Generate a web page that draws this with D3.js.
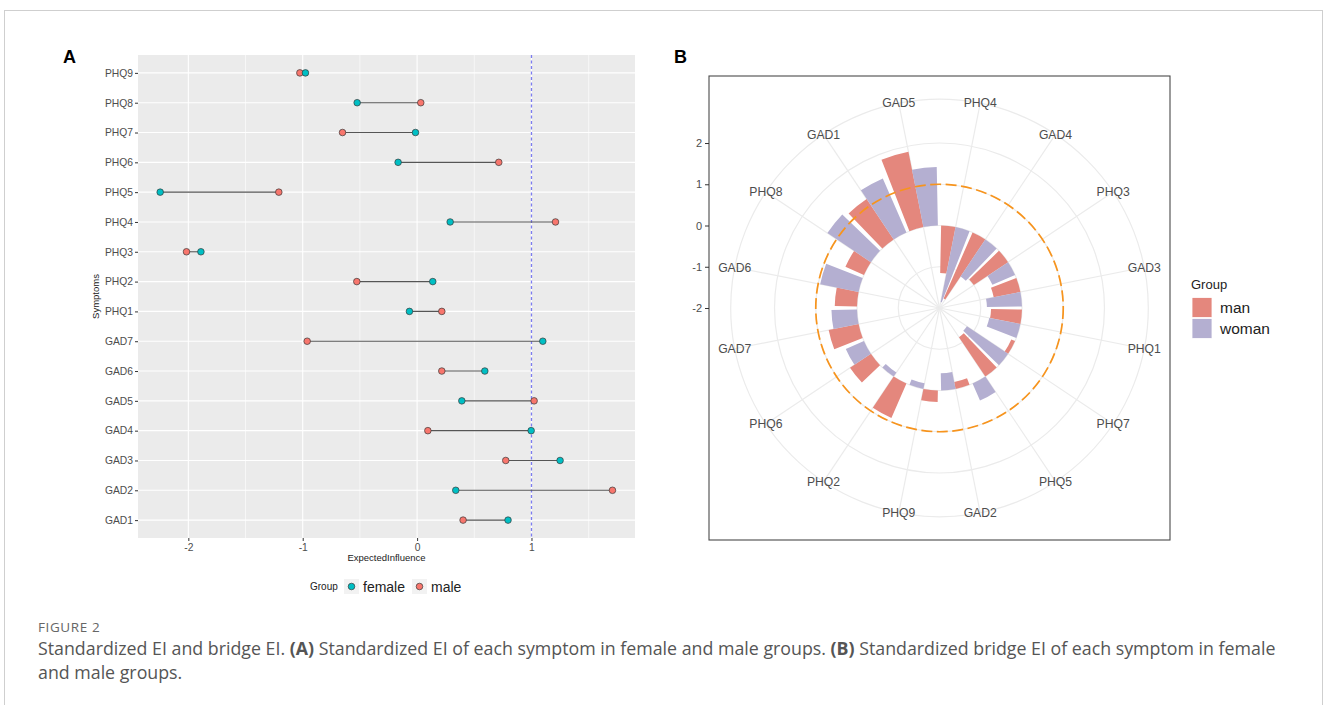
<!DOCTYPE html>
<html>
<head>
<meta charset="utf-8">
<script src="https://cdn.jsdelivr.net/npm/d3@7"></script>
<style>
  body { margin: 0; background: #fff; }
  text { font-family: "Liberation Sans", Arial, sans-serif; }
</style>
</head>
<body>
<script>
// ---- panel A : standardized expected influence
const symptoms = ["GAD1","GAD2","GAD3","GAD4","GAD5","GAD6","GAD7","PHQ1","PHQ2","PHQ3","PHQ4","PHQ5","PHQ6","PHQ7","PHQ8","PHQ9"];
const femaleEI = [0.795, 0.338, 1.25, 0.997, 0.391, 0.592, 1.099, -0.067, 0.137, -1.89, 0.289, -2.246, -0.166, -0.014, -0.524, -0.976];
const maleEI   = [0.402, 1.708, 0.775, 0.094, 1.023, 0.216, -0.961, 0.216, -0.527, -2.016, 1.21, -1.209, 0.714, -0.652, 0.032, -1.025];
const xTicksA = [-2, -1, 0, 1];
const xMinorA = [-1.5, -0.5, 0.5, 1.5];
const refLineA = 1;

// ---- panel B : standardized bridge expected influence
const bridgeNodes = ["PHQ4","GAD4","PHQ3","GAD3","PHQ1","PHQ7","PHQ5","GAD2","PHQ9","PHQ2","PHQ6","GAD7","GAD6","PHQ8","GAD1","GAD5"];
const manBEI   = [-1.15, -1.75, -1.0, -0.66, -0.75, -0.1, -1.15, -0.17, 0.28, 0.91, 0.61, 0.74, 0.54, 0.49, 1.18, 1.86];
const womanBEI = [-1.85, -1.08, -0.6, -0.85, -0.77, -1.2, 0.45, -0.42, -0.14, -0.12, 0.48, 0.62, 0.95, 1.27, 1.43, 1.42];
const groupsB = ["man", "woman"];
const rTicksB = [-2, -1, 0, 1, 2];
const refLineB = 1;

const width = 1328, height = 705;
const svg = d3.select("body").append("svg")
  .attr("width", width)
  .attr("height", height);

// figure frame
svg.append("rect")
  .attr("x", 4.5).attr("y", 10.5)
  .attr("width", 1318).attr("height", 710)
  .attr("fill", "none").attr("stroke", "#cfcfcf");

///////// panel A
const pA = {left: 138, right: 635, top: 55, bottom: 538};
const xA = d3.scaleLinear().domain([-2.44, 1.905]).range([pA.left, pA.right]);
const yA = d3.scalePoint().domain(symptoms.slice().reverse()).range([pA.top, pA.bottom]).padding(0.6);
const colA = {female: "#00BFC4", male: "#F8766D"};

const gA = svg.append("g");
gA.append("rect")
  .attr("x", pA.left).attr("y", pA.top)
  .attr("width", pA.right - pA.left).attr("height", pA.bottom - pA.top)
  .attr("fill", "#EBEBEB");

gA.selectAll(".minor").data(xMinorA).join("line")
  .attr("x1", d => xA(d)).attr("x2", d => xA(d))
  .attr("y1", pA.top).attr("y2", pA.bottom)
  .attr("stroke", "#fff").attr("stroke-width", 0.6);
gA.selectAll(".majorx").data(xTicksA).join("line")
  .attr("x1", d => xA(d)).attr("x2", d => xA(d))
  .attr("y1", pA.top).attr("y2", pA.bottom)
  .attr("stroke", "#fff").attr("stroke-width", 1.1);
gA.selectAll(".majory").data(symptoms).join("line")
  .attr("x1", pA.left).attr("x2", pA.right)
  .attr("y1", d => yA(d)).attr("y2", d => yA(d))
  .attr("stroke", "#fff").attr("stroke-width", 1.1);

// reference line
gA.append("line")
  .attr("x1", xA(refLineA)).attr("x2", xA(refLineA))
  .attr("y1", pA.top).attr("y2", pA.bottom)
  .attr("stroke", "#7C7CF0").attr("stroke-width", 1.3)
  .attr("stroke-dasharray", "3,2.5");

const rowsA = symptoms.map((s, i) => ({s, f: femaleEI[i], m: maleEI[i]}));
gA.selectAll(".seg").data(rowsA).join("line")
  .attr("x1", d => xA(d.f)).attr("x2", d => xA(d.m))
  .attr("y1", d => yA(d.s)).attr("y2", d => yA(d.s))
  .attr("stroke", "#555").attr("stroke-width", 1.1);
gA.selectAll(".pm").data(rowsA).join("circle")
  .attr("cx", d => xA(d.m)).attr("cy", d => yA(d.s)).attr("r", 3.3)
  .attr("fill", colA.male).attr("stroke", "#3a3a3a").attr("stroke-width", 0.7);
gA.selectAll(".pf").data(rowsA).join("circle")
  .attr("cx", d => xA(d.f)).attr("cy", d => yA(d.s)).attr("r", 3.3)
  .attr("fill", colA.female).attr("stroke", "#3a3a3a").attr("stroke-width", 0.7);

const axAy = gA.append("g").attr("transform", `translate(${pA.left},0)`)
  .call(d3.axisLeft(yA).tickSize(3).tickPadding(2));
const axAx = gA.append("g").attr("transform", `translate(0,${pA.bottom})`)
  .call(d3.axisBottom(xA).tickValues(xTicksA).tickSize(3).tickPadding(3).tickFormat(d3.format("d")));
[axAy, axAx].forEach(ax => {
  ax.select(".domain").remove();
  ax.selectAll("line").attr("stroke", "#333");
  ax.selectAll("text").attr("fill", "#4D4D4D").style("font-size", "10.3px");
});
axAx.selectAll("text").text(d => d < 0 ? "-" + Math.abs(d) : d);

gA.append("text")
  .attr("transform", `translate(99,${(pA.top + pA.bottom) / 2}) rotate(-90)`)
  .attr("text-anchor", "middle").attr("fill", "#222")
  .style("font-size", "9.5px").text("Symptoms");
gA.append("text")
  .attr("x", (pA.left + pA.right) / 2).attr("y", 561)
  .attr("text-anchor", "middle").attr("fill", "#222")
  .style("font-size", "9.5px").text("ExpectedInfluence");

// legend A
const legA = gA.append("g");
legA.append("text").attr("x", 310).attr("y", 590)
  .style("font-size", "10px").attr("fill", "#222").text("Group");
const legItemsA = [{k: "female", x: 344}, {k: "male", x: 412}];
legItemsA.forEach(d => {
  legA.append("rect").attr("x", d.x).attr("y", 579).attr("width", 15).attr("height", 15).attr("fill", "#F2F2F2");
  legA.append("circle").attr("cx", d.x + 7.5).attr("cy", 586.5).attr("r", 3.3)
    .attr("fill", colA[d.k]).attr("stroke", "#3a3a3a").attr("stroke-width", 0.7);
  legA.append("text").attr("x", d.x + 19).attr("y", 591.5)
    .style("font-size", "14px").attr("fill", "#222").text(d.k);
});

svg.append("text").attr("x", 63).attr("y", 63)
  .style("font-size", "18px").style("font-weight", "bold").text("A");

///////// panel B
const pB = {left: 709, right: 1170, top: 76, bottom: 540};
const cx = (pB.left + pB.right) / 2, cy = (pB.top + pB.bottom) / 2;
const half = (pB.bottom - pB.top) / 2;
const rB = d3.scaleLinear().domain([-2, 2.5]).range([0, 0.8 * half]);
const rOuter = 0.9 * half;
const theta = d3.scaleBand().domain(bridgeNodes).range([0, 2 * Math.PI]).paddingInner(0.1).paddingOuter(0.05);
const dodge = d3.scaleBand().domain(groupsB).range([0, theta.bandwidth()]);
const colB = d3.scaleOrdinal().domain(groupsB).range(["#E4877D", "#B4AFD1"]);

const gB = svg.append("g");
gB.append("rect")
  .attr("x", pB.left).attr("y", pB.top)
  .attr("width", pB.right - pB.left).attr("height", pB.bottom - pB.top)
  .attr("fill", "#fff");

const polar = gB.append("g").attr("transform", `translate(${cx},${cy})`);
const gridCol = "#EBEBEB";
polar.selectAll(".ring").data(rTicksB.filter(d => rB(d) > 0).map(rB).concat([rOuter])).join("circle")
  .attr("r", d => d).attr("fill", "none").attr("stroke", gridCol).attr("stroke-width", 1.2);
const midAngle = d => theta(d) + theta.bandwidth() / 2;
polar.selectAll(".spoke").data(bridgeNodes).join("line")
  .attr("x1", 0).attr("y1", 0)
  .attr("x2", d => rOuter * Math.sin(midAngle(d)))
  .attr("y2", d => -rOuter * Math.cos(midAngle(d)))
  .attr("stroke", gridCol).attr("stroke-width", 1.2);

const barsB = [];
bridgeNodes.forEach((n, i) => {
  barsB.push({n, g: "man", v: manBEI[i]});
  barsB.push({n, g: "woman", v: womanBEI[i]});
});
const arc = d3.arc()
  .innerRadius(d => rB(Math.min(0, d.v)))
  .outerRadius(d => rB(Math.max(0, d.v)))
  .startAngle(d => theta(d.n) + dodge(d.g))
  .endAngle(d => theta(d.n) + dodge(d.g) + dodge.bandwidth());
polar.selectAll(".bar").data(barsB).join("path")
  .attr("d", arc)
  .attr("fill", d => colB(d.g));

polar.append("circle")
  .attr("r", rB(refLineB))
  .attr("fill", "none").attr("stroke", "#F7941D").attr("stroke-width", 1.7)
  .attr("stroke-dasharray", "11,4.5");

polar.selectAll(".lab").data(bridgeNodes).join("text")
  .attr("x", d => rOuter * Math.sin(midAngle(d)))
  .attr("y", d => -rOuter * Math.cos(midAngle(d)))
  .attr("text-anchor", "middle").attr("dy", "0.35em")
  .attr("fill", "#4D4D4D").style("font-size", "12.2px")
  .text(d => d);

gB.append("rect")
  .attr("x", pB.left).attr("y", pB.top)
  .attr("width", pB.right - pB.left).attr("height", pB.bottom - pB.top)
  .attr("fill", "none").attr("stroke", "#4a4a4a").attr("stroke-width", 1.1);

const yB = d3.scaleLinear().domain(rB.domain()).range([cy, cy - rB.range()[1]]);
const axB = gB.append("g").attr("transform", `translate(${pB.left},0)`)
  .call(d3.axisLeft(yB).tickValues(rTicksB).tickSize(4).tickPadding(3).tickFormat(d3.format("d")));
axB.select(".domain").remove();
axB.selectAll("line").attr("stroke", "#333");
axB.selectAll("text").attr("fill", "#4D4D4D").style("font-size", "11px")
  .text(d => d < 0 ? "-" + Math.abs(d) : d);

// legend B
const legB = gB.append("g");
legB.append("text").attr("x", 1191).attr("y", 289)
  .style("font-size", "13px").attr("fill", "#222").text("Group");
groupsB.forEach((g, i) => {
  legB.append("rect").attr("x", 1192).attr("y", 297.5 + i * 21).attr("width", 20).attr("height", 20)
    .attr("fill", colB(g)).attr("stroke", "#fff").attr("stroke-width", 0.8);
  legB.append("text").attr("x", 1220).attr("y", 313 + i * 21)
    .style("font-size", "15.5px").attr("fill", "#222").text(g);
});

svg.append("text").attr("x", 674).attr("y", 63)
  .style("font-size", "18px").style("font-weight", "bold").text("B");

///////// caption
const cap = svg.append("g");
cap.append("text").attr("x", 38).attr("y", 632)
  .style("font-family", "'Open Sans', sans-serif").style("letter-spacing", "0.6px")
  .style("font-size", "13.5px").attr("fill", "#666").text("FIGURE 2");
const line1 = cap.append("text").attr("x", 38).attr("y", 655)
  .style("font-family", "'Open Sans', sans-serif")
  .style("font-size", "17.8px").attr("fill", "#555");
line1.append("tspan").text("Standardized EI and bridge EI. ");
line1.append("tspan").style("font-weight", "bold").text("(A)");
line1.append("tspan").text(" Standardized EI of each symptom in female and male groups. ");
line1.append("tspan").style("font-weight", "bold").text("(B)");
line1.append("tspan").text(" Standardized bridge EI of each symptom in female");
cap.append("text").attr("x", 38).attr("y", 679)
  .style("font-family", "'Open Sans', sans-serif")
  .style("font-size", "17.8px").attr("fill", "#555").text("and male groups.");
</script>
</body>
</html>
